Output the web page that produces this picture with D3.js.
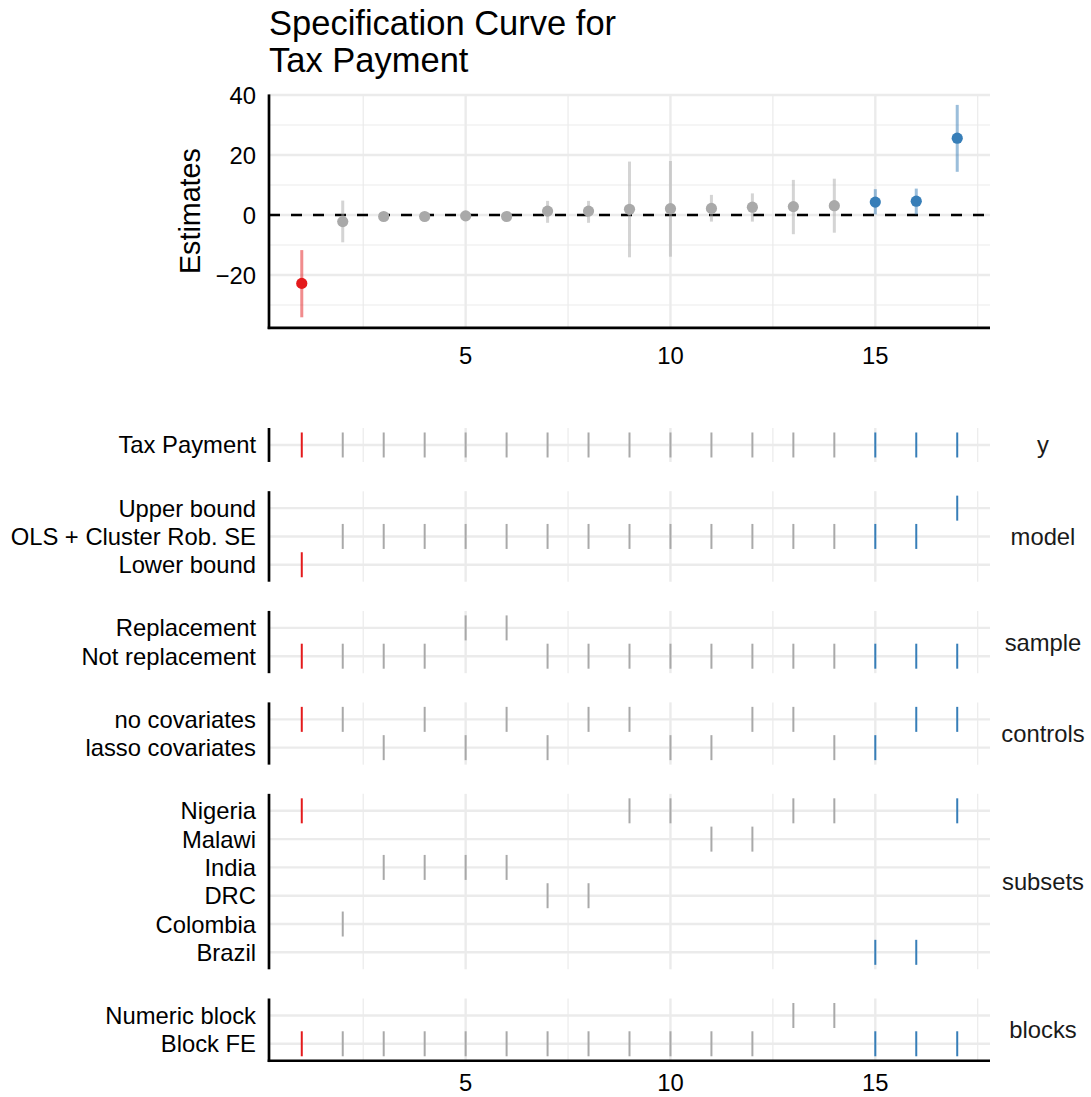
<!DOCTYPE html>
<html>
<head>
<meta charset="utf-8">
<script src="https://cdn.jsdelivr.net/npm/d3@7"></script>
<style>
  body { margin: 0; background: #fff; }
  text { font-family: "Liberation Sans", Arial, Helvetica, sans-serif; }
</style>
</head>
<body>
<script>
const d3 = window.d3;

// ---- data ----
const specNo = [1, 2, 3, 4, 5, 6, 7, 8, 9, 10, 11, 12, 13, 14, 15, 16, 17];
const estimate = [-22.8, -2.2, -0.5, -0.5, -0.3, -0.5, 1.3, 1.3, 1.9, 2.1, 2.2, 2.6, 2.8, 3.1, 4.3, 4.6, 25.6];
const confLow  = [-34.1, -9.1, -1.0, -0.9, -0.7, -1.0, -2.6, -2.6, -14.1, -13.9, -2.2, -2.2, -6.4, -5.9, 0.2, 0.2, 14.4];
const confHigh = [-11.7, 4.8, 0.0, -0.1, 0.1, 0.0, 4.7, 4.7, 17.8, 18.0, 6.7, 7.2, 11.7, 12.1, 8.6, 8.8, 36.7];
const signif   = ["neg", "none", "none", "none", "none", "none", "none", "none", "none", "none",
                  "none", "none", "none", "none", "pos", "pos", "pos"];

const yChoice = Array(17).fill("Tax Payment");
const modelChoice = ["Lower bound", "OLS + Cluster Rob. SE", "OLS + Cluster Rob. SE", "OLS + Cluster Rob. SE",
  "OLS + Cluster Rob. SE", "OLS + Cluster Rob. SE", "OLS + Cluster Rob. SE", "OLS + Cluster Rob. SE",
  "OLS + Cluster Rob. SE", "OLS + Cluster Rob. SE", "OLS + Cluster Rob. SE", "OLS + Cluster Rob. SE",
  "OLS + Cluster Rob. SE", "OLS + Cluster Rob. SE", "OLS + Cluster Rob. SE", "OLS + Cluster Rob. SE", "Upper bound"];
const sampleChoice = ["Not replacement", "Not replacement", "Not replacement", "Not replacement", "Replacement",
  "Replacement", "Not replacement", "Not replacement", "Not replacement", "Not replacement", "Not replacement",
  "Not replacement", "Not replacement", "Not replacement", "Not replacement", "Not replacement", "Not replacement"];
const controlsChoice = ["no covariates", "no covariates", "lasso covariates", "no covariates", "lasso covariates",
  "no covariates", "lasso covariates", "no covariates", "no covariates", "lasso covariates", "lasso covariates",
  "no covariates", "no covariates", "lasso covariates", "lasso covariates", "no covariates", "no covariates"];
const subsetChoice = ["Nigeria", "Colombia", "India", "India", "India", "India", "DRC", "DRC", "Nigeria", "Nigeria",
  "Malawi", "Malawi", "Nigeria", "Nigeria", "Brazil", "Brazil", "Nigeria"];
const blockChoice = ["Block FE", "Block FE", "Block FE", "Block FE", "Block FE", "Block FE", "Block FE", "Block FE",
  "Block FE", "Block FE", "Block FE", "Block FE", "Numeric block", "Numeric block", "Block FE", "Block FE", "Block FE"];

// facet name, levels top-to-bottom, choice per spec
const facets = [
  {name: "y", levels: ["Tax Payment"], values: yChoice},
  {name: "model", levels: ["Upper bound", "OLS + Cluster Rob. SE", "Lower bound"], values: modelChoice},
  {name: "sample", levels: ["Replacement", "Not replacement"], values: sampleChoice},
  {name: "controls", levels: ["no covariates", "lasso covariates"], values: controlsChoice},
  {name: "subsets", levels: ["Nigeria", "Malawi", "India", "DRC", "Colombia", "Brazil"], values: subsetChoice},
  {name: "blocks", levels: ["Numeric block", "Block FE"], values: blockChoice}
];

const xBreaks = [5, 10, 15];
const xMinor = [2.5, 7.5, 12.5, 17.5];
const yBreaks = [-20, 0, 20, 40];
const yMinor = [-30, -10, 10, 30];

const colors = {neg: "#e41a1c", none: "#a9a9a9", pos: "#377eb8"};

// ---- layout ----
const W = 1091, H = 1097;
const left = 269, right = 990;
const svg = d3.select("body").append("svg").attr("width", W).attr("height", H);

const x = d3.scaleLinear().domain([0.2, 17.8]).range([left, right]);
const y = d3.scaleLinear().domain([-37.6, 40.2]).range([327.8, 94.4]);

const grid = "#ebebeb";
const axisFont = 23.8;

// title
const title = svg.append("text").attr("x", left).attr("font-size", 34.5).attr("fill", "#000");
title.append("tspan").attr("x", left).attr("y", 35).text("Specification Curve for");
title.append("tspan").attr("x", left).attr("y", 71.5).text("Tax Payment");

// ---- curve panel ----
const curve = svg.append("g");
curve.selectAll(".ymin").data(yMinor).enter().append("line")
  .attr("x1", left).attr("x2", right).attr("y1", d => y(d)).attr("y2", d => y(d))
  .attr("stroke", grid).attr("stroke-width", 1.2);
curve.selectAll(".xmin").data(xMinor).enter().append("line")
  .attr("x1", d => x(d)).attr("x2", d => x(d)).attr("y1", y.range()[1]).attr("y2", y.range()[0])
  .attr("stroke", grid).attr("stroke-width", 1.2);
curve.selectAll(".ymaj").data(yBreaks).enter().append("line")
  .attr("x1", left).attr("x2", right).attr("y1", d => y(d)).attr("y2", d => y(d))
  .attr("stroke", grid).attr("stroke-width", 2.4);
curve.selectAll(".xmaj").data(xBreaks).enter().append("line")
  .attr("x1", d => x(d)).attr("x2", d => x(d)).attr("y1", y.range()[1]).attr("y2", y.range()[0])
  .attr("stroke", grid).attr("stroke-width", 2.4);

curve.append("line")
  .attr("x1", left).attr("x2", right).attr("y1", y(0)).attr("y2", y(0))
  .attr("stroke", "#000").attr("stroke-width", 2.7).attr("stroke-dasharray", "11,11");

curve.selectAll(".err").data(specNo).enter().append("line")
  .attr("x1", (d) => x(d)).attr("x2", d => x(d))
  .attr("y1", (d, i) => y(confLow[i])).attr("y2", (d, i) => y(confHigh[i]))
  .attr("stroke", (d, i) => colors[signif[i]]).attr("stroke-opacity", 0.5).attr("stroke-width", 3);

curve.selectAll(".pt").data(specNo).enter().append("circle")
  .attr("cx", d => x(d)).attr("cy", (d, i) => y(estimate[i])).attr("r", 5.6)
  .attr("fill", (d, i) => colors[signif[i]]);

// axes (lines + labels only)
curve.append("line").attr("x1", left).attr("x2", left).attr("y1", y.range()[1]).attr("y2", y.range()[0] + 1.3)
  .attr("stroke", "#000").attr("stroke-width", 2.7);
curve.append("line").attr("x1", left - 1.3).attr("x2", right).attr("y1", y.range()[0]).attr("y2", y.range()[0])
  .attr("stroke", "#000").attr("stroke-width", 2.7);
curve.selectAll(".yl").data(yBreaks).enter().append("text")
  .attr("x", 256).attr("y", d => y(d) + 8.5).attr("text-anchor", "end")
  .attr("font-size", axisFont).text(d => d < 0 ? "\u2212" + Math.abs(d) : d);
curve.selectAll(".xl").data(xBreaks).enter().append("text")
  .attr("x", d => x(d)).attr("y", 363.5).attr("text-anchor", "middle")
  .attr("font-size", axisFont).text(d => d);
curve.append("text")
  .attr("transform", `translate(200, ${(y.range()[0] + y.range()[1]) / 2}) rotate(-90)`)
  .attr("text-anchor", "middle").attr("font-size", 28.7).text("Estimates");

// ---- choice panels ----
const unit = 28.3, gap = 29.2;
let cur = 428;
facets.forEach((f, fi) => {
  const h = (f.levels.length + 0.2) * unit;
  const y0 = cur, y1 = cur + h;
  cur = y1 + gap;
  const yp = d3.scalePoint().domain(f.levels).range([y0, y1]).padding(0.6);
  const g = svg.append("g");

  g.selectAll(".xmin").data(xMinor).enter().append("line")
    .attr("x1", d => x(d)).attr("x2", d => x(d)).attr("y1", y0).attr("y2", y1)
    .attr("stroke", grid).attr("stroke-width", 1.2);
  g.selectAll(".xmaj").data(xBreaks).enter().append("line")
    .attr("x1", d => x(d)).attr("x2", d => x(d)).attr("y1", y0).attr("y2", y1)
    .attr("stroke", grid).attr("stroke-width", 2.4);
  g.selectAll(".row").data(f.levels).enter().append("line")
    .attr("x1", left).attr("x2", right).attr("y1", d => yp(d)).attr("y2", d => yp(d))
    .attr("stroke", grid).attr("stroke-width", 2.4);

  g.selectAll(".tick").data(specNo).enter().append("line")
    .attr("x1", d => x(d)).attr("x2", d => x(d))
    .attr("y1", (d, i) => yp(f.values[i]) - 12.5).attr("y2", (d, i) => yp(f.values[i]) + 12.5)
    .attr("stroke", (d, i) => colors[signif[i]]).attr("stroke-width", 2);

  g.append("line").attr("x1", left).attr("x2", left).attr("y1", y0)
    .attr("y2", fi === facets.length - 1 ? y1 + 1.3 : y1)
    .attr("stroke", "#000").attr("stroke-width", 2.7);

  g.selectAll(".lab").data(f.levels).enter().append("text")
    .attr("x", 256).attr("y", d => yp(d) + 8.5).attr("text-anchor", "end")
    .attr("font-size", axisFont).text(d => d);

  g.append("text").attr("x", 1043).attr("y", (y0 + y1) / 2 + 8.5).attr("text-anchor", "middle")
    .attr("font-size", axisFont).attr("fill", "#1a1a1a").text(f.name);

  if (fi === facets.length - 1) {
    g.append("line").attr("x1", left - 1.3).attr("x2", right).attr("y1", y1).attr("y2", y1)
      .attr("stroke", "#000").attr("stroke-width", 2.7);
    g.selectAll(".xl").data(xBreaks).enter().append("text")
      .attr("x", d => x(d)).attr("y", y1 + 30).attr("text-anchor", "middle")
      .attr("font-size", axisFont).text(d => d);
  }
});
</script>
</body>
</html>
